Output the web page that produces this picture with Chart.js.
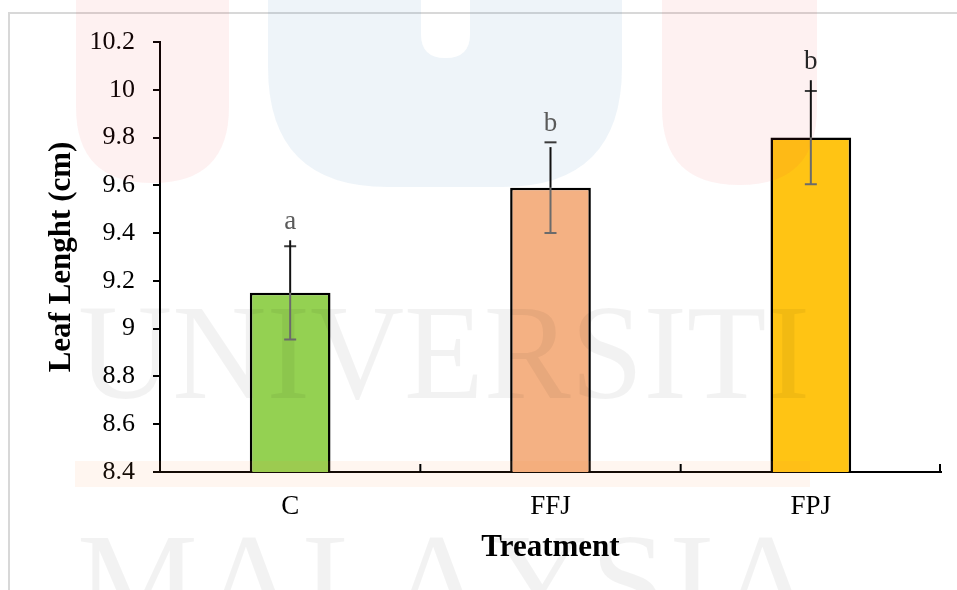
<!DOCTYPE html>
<html lang="en">
<head>
    <meta charset="UTF-8">
    <title>Leaf Lenght by Treatment</title>
    <script src="https://cdn.jsdelivr.net/npm/chart.js"></script>
    <style>
        body {
            margin: 0;
            background: #fff;
        }
        #wrap {
            width: 957px;
            height: 590px;
            position: relative;
        }
    </style>
</head>
<body>
    <div id="wrap"><canvas id="chart" width="957" height="590"></canvas></div>

    <script>
        // values
        const categories = ["C", "FFJ", "FPJ"];
        const means = [9.15, 9.59, 9.80];
        const errors = [0.195, 0.19, 0.195];
        // the dark stroke above each bar does not stop exactly at the cap
        const upperLineEnds = [9.37, 9.76, 10.04];
        const letters = ["a", "b", "b"];
        const letterColors = ["#5a5a5a", "#5a5a5a", "#262626"];
        const barColors = ["#94d152", "#f4b183", "#ffc414"];
        const yTicks = [8.4, 8.6, 8.8, 9.0, 9.2, 9.4, 9.6, 9.8, 10.0, 10.2];
        const yTickLabels = ["8.4", "8.6", "8.8", "9", "9.2", "9.4", "9.6", "9.8", "10", "10.2"];

        const SERIF = "'Liberation Serif', 'Times New Roman', serif";

        function bottomRounded(ctx, x0, x1, yBottom, r) {
            ctx.beginPath();
            ctx.moveTo(x0, -5);
            ctx.lineTo(x1, -5);
            ctx.lineTo(x1, yBottom - r);
            ctx.quadraticCurveTo(x1, yBottom, x1 - r, yBottom);
            ctx.lineTo(x0 + r, yBottom);
            ctx.quadraticCurveTo(x0, yBottom, x0, yBottom - r);
            ctx.closePath();
        }

        // page frame and the faint university watermark
        const backdrop = {
            id: "backdrop",
            beforeDraw(chart) {
                const ctx = chart.ctx;
                ctx.save();
                ctx.fillStyle = "#fff";
                ctx.fillRect(0, 0, chart.width, chart.height);
                ctx.strokeStyle = "#d8d8d8";
                ctx.lineWidth = 2;
                ctx.beginPath();
                ctx.moveTo(chart.width, 13);
                ctx.lineTo(9, 13);
                ctx.lineTo(9, chart.height);
                ctx.stroke();
                ctx.restore();
            },
            afterDatasetsDraw(chart) {
                const ctx = chart.ctx;
                ctx.save();
                // logo shapes
                ctx.fillStyle = "rgba(235, 60, 60, 0.07)";
                bottomRounded(ctx, 76, 229, 183, 76);
                ctx.fill();
                bottomRounded(ctx, 662, 817, 185, 77);
                ctx.fill();
                ctx.fillStyle = "rgba(40, 110, 180, 0.08)";
                bottomRounded(ctx, 268, 622, 187, 120);
                ctx.fill();
                ctx.fillStyle = "#fff";
                bottomRounded(ctx, 421, 470, 58, 24);
                ctx.fill();
                ctx.strokeStyle = "#d8d8d8";
                ctx.lineWidth = 2;
                ctx.beginPath();
                ctx.moveTo(421, 13);
                ctx.lineTo(470, 13);
                ctx.stroke();
                ctx.fillStyle = "rgba(255, 140, 60, 0.08)";
                ctx.fillRect(75, 461, 735, 26);

                // text
                ctx.fillStyle = "rgba(0, 0, 0, 0.05)";
                ctx.font = "136px " + SERIF;
                ctx.textBaseline = "alphabetic";
                ctx.textAlign = "left";
                ctx.fillText("UNIVERSITI", 78, 398, 732);
                let x = 77;
                for (const ch of "MALAYSIA") {
                    ctx.fillText(ch, x, 627);
                    x += ctx.measureText(ch).width + 3;
                }
                ctx.restore();
            }
        };

        // error bars, significance letters and the inward x ticks
        const errorBars = {
            id: "errorBars",
            afterDatasetsDraw(chart) {
                const ctx = chart.ctx;
                const xs = chart.scales.x;
                const ys = chart.scales.y;
                const area = chart.chartArea;
                ctx.save();

                // category boundary ticks, pointing up
                ctx.strokeStyle = "#000";
                ctx.lineWidth = 2;
                for (let i = 0; i < categories.length; i++) {
                    const px = i < categories.length - 1
                        ? (xs.getPixelForValue(i) + xs.getPixelForValue(i + 1)) / 2
                        : area.right - 1;
                    ctx.beginPath();
                    ctx.moveTo(px, area.bottom);
                    ctx.lineTo(px, area.bottom - 8);
                    ctx.stroke();
                }

                means.forEach((m, i) => {
                    const px = xs.getPixelForValue(i);
                    const yTop = ys.getPixelForValue(m + errors[i]);
                    const yLow = ys.getPixelForValue(m - errors[i]);
                    const yBar = ys.getPixelForValue(m);
                    const yLine = ys.getPixelForValue(upperLineEnds[i]);

                    // gray part inside the bar
                    ctx.strokeStyle = "#6b6b6b";
                    ctx.lineWidth = 2;
                    ctx.beginPath();
                    ctx.moveTo(px, yBar);
                    ctx.lineTo(px, yLow);
                    ctx.moveTo(px - 6, yLow);
                    ctx.lineTo(px + 6, yLow);
                    ctx.stroke();

                    // upper cap
                    ctx.strokeStyle = "#3a3a3a";
                    ctx.beginPath();
                    ctx.moveTo(px - 6, yTop);
                    ctx.lineTo(px + 6, yTop);
                    ctx.stroke();

                    // dark stroke above the bar
                    ctx.strokeStyle = "#111";
                    ctx.lineWidth = 2;
                    ctx.beginPath();
                    ctx.moveTo(px, yBar);
                    ctx.lineTo(px, yLine);
                    ctx.stroke();

                    // letter
                    ctx.fillStyle = letterColors[i];
                    ctx.font = "27px " + SERIF;
                    ctx.textAlign = "center";
                    ctx.textBaseline = "middle";
                    ctx.fillText(letters[i], px, Math.min(yTop, yLine) - 18);
                });
                ctx.restore();
            }
        };

        new Chart(document.getElementById("chart"), {
            type: "bar",
            data: {
                labels: categories,
                datasets: [{
                    data: means,
                    backgroundColor: barColors,
                    borderColor: "#000",
                    borderWidth: 2.5,
                    borderSkipped: false,
                    categoryPercentage: 1,
                    barPercentage: 0.31
                }]
            },
            options: {
                responsive: false,
                animation: false,
                events: [],
                layout: {
                    padding: { top: 42, right: 16, left: 0, bottom: 0 }
                },
                plugins: {
                    legend: { display: false },
                    tooltip: { enabled: false }
                },
                scales: {
                    x: {
                        grid: { display: false },
                        border: { display: true, color: "#000", width: 2 },
                        ticks: {
                            color: "#000",
                            padding: 11,
                            font: { family: SERIF, size: 27 }
                        },
                        title: {
                            display: true,
                            text: "Treatment",
                            color: "#000",
                            padding: { top: 0, bottom: 23 },
                            font: { family: SERIF, size: 31, weight: "bold" }
                        },
                        afterFit(scale) { scale.height = 118; }
                    },
                    y: {
                        min: 8.4,
                        max: 10.2,
                        afterBuildTicks(scale) {
                            scale.ticks = yTicks.map(v => ({ value: v }));
                        },
                        grid: {
                            drawOnChartArea: false,
                            drawTicks: true,
                            tickLength: 7,
                            color: "#000",
                            lineWidth: 2
                        },
                        border: { display: true, color: "#000", width: 2 },
                        ticks: {
                            color: "#000",
                            padding: 18,
                            font: { family: SERIF, size: 26 },
                            callback: (v, i) => yTickLabels[i]
                        },
                        title: {
                            display: true,
                            text: "Leaf Lenght (cm)",
                            color: "#000",
                            padding: { top: 43, bottom: 0 },
                            font: { family: SERIF, size: 31, weight: "bold" }
                        },
                        afterFit(scale) { scale.width = 160; }
                    }
                }
            },
            plugins: [backdrop, errorBars]
        });
    </script>
</body>
</html>
